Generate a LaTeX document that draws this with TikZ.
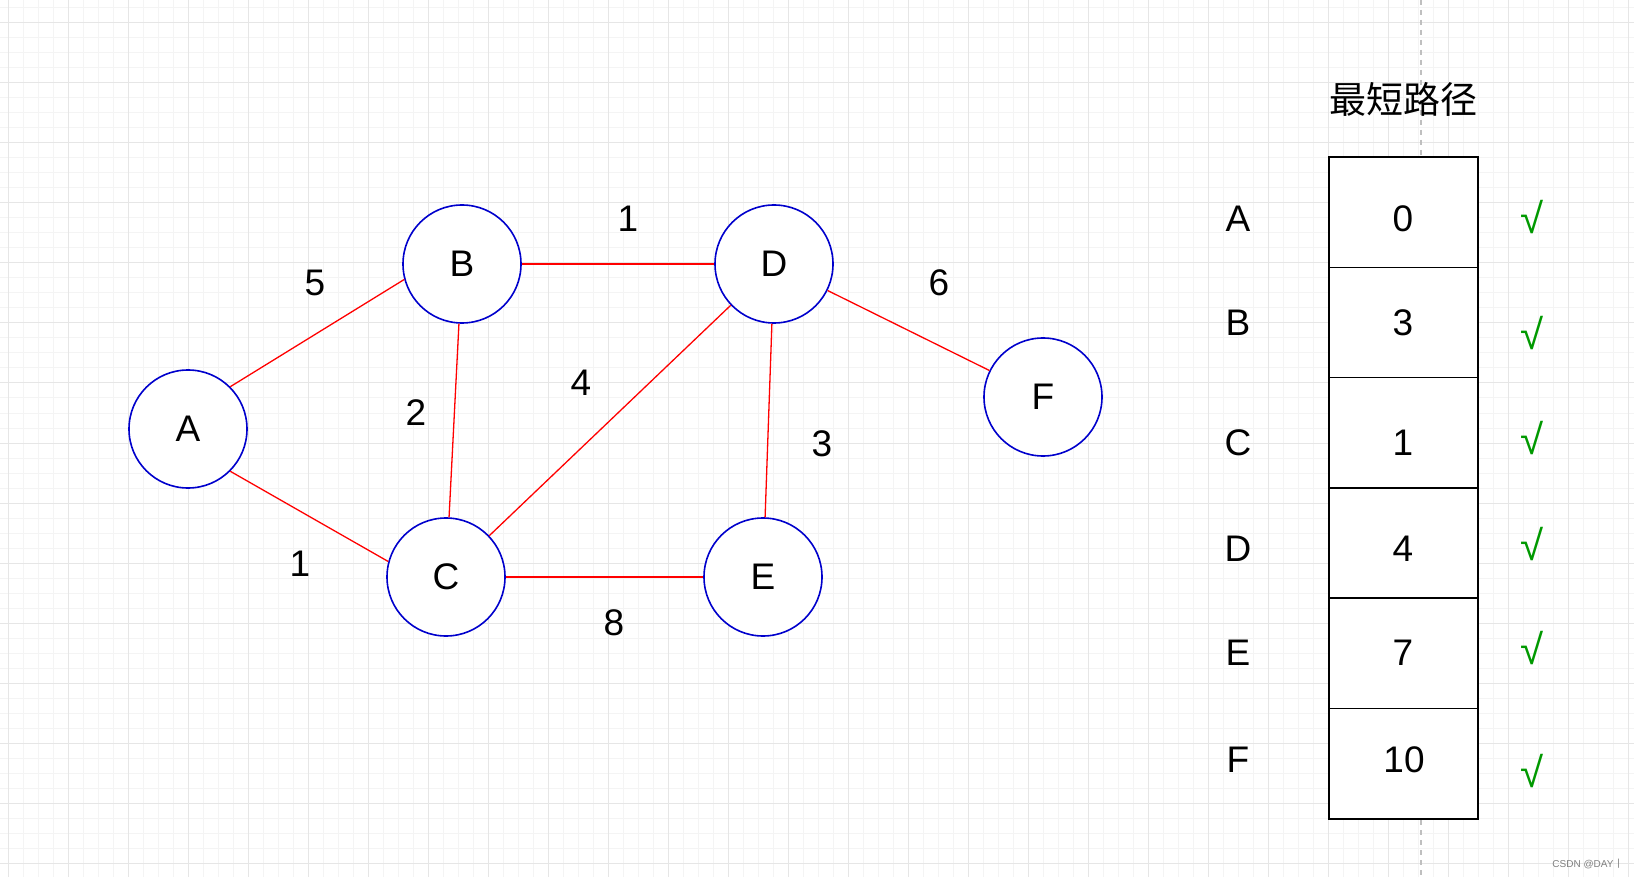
\documentclass[tikz,border=0pt]{standalone}
\usepackage{fontspec}
\setmainfont{Liberation Sans}
\newfontfamily\cjk{Noto Sans CJK SC}
\usepackage{tikz}
\usetikzlibrary{arrows,automata}
\definecolor{RED}{HTML}{FF0000}
\definecolor{BLUE}{HTML}{0000CC}
\definecolor{GREEN}{HTML}{009900}
\definecolor{MAJOR}{HTML}{E6E6E6}
\definecolor{MINOR}{HTML}{F4F4F4}
\newcommand{\bigtext}{\fontsize{37}{40}\selectfont}

\begin{document}
\begin{tikzpicture}[x=1pt,y=-1pt,node distance=110.3pt,semithick]
	\tikzstyle{every state}=[draw=BLUE,line width=1.6pt,fill=white,minimum size=118pt,inner sep=0pt,font=\bigtext]
	\tikzstyle{weight}=[font=\bigtext]
	\tikzstyle{cell}=[draw,line width=1.6pt,fill=white,minimum width=149pt,minimum height=110.3pt,inner sep=0pt]
	\tikzstyle{done}=[text=GREEN,font=\fontsize{42}{44}\selectfont]
	
	\useasboundingbox (0,0) rectangle (1634,877);
	\fill[white] (0,0) rectangle (1634,877);
	% grid paper
	\foreach \gx in {8,23,...,1634} \draw[MINOR,line width=1pt] (\gx,0) -- (\gx,877);
	\foreach \gy in {8,23,...,877} \draw[MINOR,line width=1pt] (0,\gy) -- (1634,\gy);
	\foreach \gx in {8,68,...,1634} \draw[MAJOR,line width=1pt] (\gx,0) -- (\gx,877);
	\foreach \gy in {23,83,...,877} \draw[MAJOR,line width=1pt] (0,\gy) -- (1634,\gy);
	\draw[black!25,line width=1.2pt,dash pattern=on 5pt off 5pt] (1421,0) -- (1421,877);
	
	\node[state] (A) at (188,429)  {A};
	\node[state] (B) at (462,264)  {B};
	\node[state] (C) at (446,577)  {C};
	\node[state] (D) at (774,264)  {D};
	\node[state] (E) at (763,577)  {E};
	\node[state] (F) at (1043,397) {F};
	
	\node[weight] (wAB) at (315,283) {5};
	\node[weight] (wBD) at (628,219) {1};
	\node[weight] (wDF) at (939,283) {6};
	\node[weight] (wBC) at (416,413) {2};
	\node[weight] (wCD) at (581,383) {4};
	\node[weight] (wDE) at (822,444) {3};
	\node[weight] (wAC) at (300,564) {1};
	\node[weight] (wCE) at (614,623) {8};
	
	\path[RED,line width=1.3pt]
	(A.45)   edge                node {} (B.195)
	(A.315)  edge                node {} (C.165)
	(B)      edge                node {} (D)
	         edge                node {} (C)
	(C)      edge                node {} (D)
	         edge                node {} (E)
	(D)      edge                node {} (E)
	         edge                node {} (F);
	
	% shortest distances
	\node[font=\cjk\bigtext] (title) at (1403,99) {最短路径};
	\node[cell] (d0) at (1403.5,212.2) {};
	\node[cell] (d1) [below of=d0] {};
	\node[cell] (d2) [below of=d1] {};
	\node[cell] (d3) [below of=d2] {};
	\node[cell] (d4) [below of=d3] {};
	\node[cell] (d5) [below of=d4] {};
	
	\node[weight] (v0) at (1403,219) {0};
	\node[weight] (v1) at (1403,323) {3};
	\node[weight] (v2) at (1403,443) {1};
	\node[weight] (v3) at (1403,549) {4};
	\node[weight] (v4) at (1403,653) {7};
	\node[weight] (v5) at (1404,760) {10};
	
	\node[weight] (lA) [node distance=165pt,left of=v0] {A};
	\node[weight] (lB) [node distance=165pt,left of=v1] {B};
	\node[weight] (lC) [node distance=165pt,left of=v2] {C};
	\node[weight] (lD) [node distance=165pt,left of=v3] {D};
	\node[weight] (lE) [node distance=165pt,left of=v4] {E};
	\node[weight] (lF) [node distance=166pt,left of=v5] {F};
	
	\node[done] (kA) at (1532,217) {√};
	\node[done] (kB) at (1532,333) {√};
	\node[done] (kC) at (1532,438) {√};
	\node[done] (kD) at (1532,544) {√};
	\node[done] (kE) at (1532,648) {√};
	\node[done] (kF) at (1532,771) {√};
	
	\node[text=black!50,font=\fontsize{10}{12}\selectfont] (mark) at (1588,864) {CSDN @DAY{\cjk 丨}};
\end{tikzpicture}
\end{document}
